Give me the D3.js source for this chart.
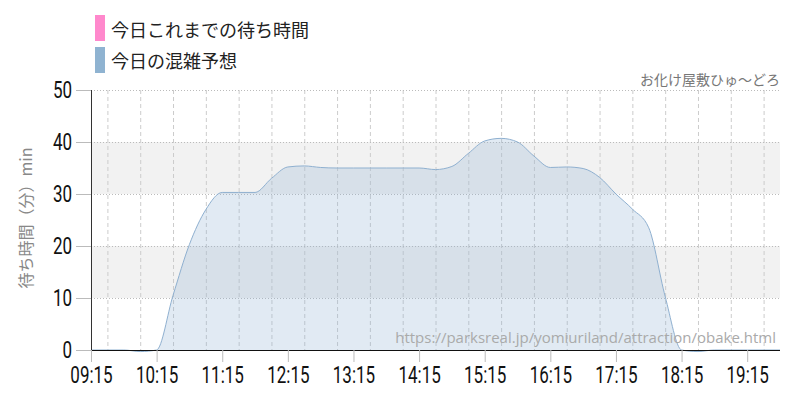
<!DOCTYPE html>
<html><head><meta charset="utf-8">
<script src="https://cdn.jsdelivr.net/npm/d3@7"></script>
<style>
body{margin:0;background:#fff;}
svg{display:block;}
.num{font-family:"Roboto",sans-serif;}
.jp{font-family:"Noto Sans CJK JP","Noto Sans",sans-serif;}
</style></head>
<body><svg id="c" width="800" height="400"></svg>
<script>
// ---- data ----
const times = ["09:15","09:30","09:45","10:00","10:15","10:30","10:45","11:00","11:15","11:30","11:45","12:00","12:15","12:30","12:45","13:00","13:15","13:30","13:45","14:00","14:15","14:30","14:45","15:00","15:15","15:30","15:45","16:00","16:15","16:30","16:45","17:00","17:15","17:30","17:45","18:00","18:15","18:30","18:45","19:00","19:15","19:30","19:45"];
const forecast = [0,0,0,-0.3,0,10.5,20.3,27,30.3,30.3,30.3,33,35.2,35.4,35.1,35,35,35,35,35,35,34.7,35.3,37.8,40.2,40.7,40,37.3,35.1,35.2,34.9,33.2,30,27.1,23.5,10.3,0,-0.3,0,0,0,0,0];
const actual = []; // 今日これまでの待ち時間 (no data yet)
const xTickLabels = ["09:15","10:15","11:15","12:15","13:15","14:15","15:15","16:15","17:15","18:15","19:15"];
const yTicks = [0,10,20,30,40,50];
const legendLabels = ["今日これまでの待ち時間","今日の混雑予想"];
const legendColors = ["#ff88cc","#8fb3d1"];
const title = "お化け屋敷ひゅ〜どろ";
const yLabel = "待ち時間（分）min";
const sourceUrl = "https://parksreal.jp/yomiuriland/attraction/obake.html";

// ---- layout ----
const svg = d3.select("#c");
const L = 91, R = 780, T = 90, B = 350;
const SX = 0.74; // horizontal condensing of numeric labels
const parse = d3.timeParse("%H:%M");
const x = d3.scaleTime().domain([parse("09:15"), parse("19:45")]).range([L, R]);
const y = d3.scaleLinear().domain([0, 50]).range([B, T]);

// alternating bands
const bands = [[10,20],[30,40]];
svg.append("g").selectAll("rect").data(bands).join("rect")
  .attr("x", L).attr("width", R - L)
  .attr("y", d => y(d[1])).attr("height", d => y(d[0]) - y(d[1]))
  .attr("fill", "#f2f2f2");

// vertical dashed grid every 30 min
const halfHours = d3.timeMinute.every(30).range(parse("09:15"), parse("19:46"));
svg.append("g").selectAll("line").data(halfHours).join("line")
  .attr("x1", d => x(d) + 0.5).attr("x2", d => x(d) + 0.5)
  .attr("y1", T).attr("y2", B)
  .attr("stroke", "#cccccc").attr("stroke-dasharray", "4,3");

// horizontal dotted grid
svg.append("g").selectAll("line").data(yTicks).join("line")
  .attr("x1", L).attr("x2", R)
  .attr("y1", d => y(d) + 0.5).attr("y2", d => y(d) + 0.5)
  .attr("stroke", "#bbbbbb").attr("stroke-dasharray", "1,2");

// area + line
const pts = times.map((t, i) => ({t: parse(t), v: forecast[i]}));
const area = d3.area().x(d => x(d.t)).y0(y(0)).y1(d => y(d.v)).curve(d3.curveMonotoneX);
const line = d3.line().x(d => x(d.t)).y(d => y(d.v)).curve(d3.curveMonotoneX);
svg.append("path").datum(pts).attr("d", area).attr("fill", "rgba(143,179,209,0.27)");
svg.append("path").datum(pts).attr("d", line).attr("fill", "none").attr("stroke", "#8fb0d0").attr("stroke-width", 1);

// actual series (empty)
if (actual.length) {
  svg.append("path").datum(actual).attr("d", line).attr("fill", "none").attr("stroke", legendColors[0]);
}

// source watermark
svg.append("text").attr("x", R - 4).attr("y", 343)
  .attr("text-anchor", "end").attr("font-size", 15).attr("fill", "#aaaaaa")
  .style("font-family", "'Open Sans','Noto Sans',sans-serif")
  .text(sourceUrl);

// y axis
const yAxis = svg.append("g").attr("transform", `translate(${L},0)`)
  .call(d3.axisLeft(y).tickValues(yTicks).tickSize(15).tickPadding(4));
yAxis.select(".domain").attr("stroke", "#333").attr("d", `M0.5,${T}V${B}`);
yAxis.selectAll(".tick line").attr("stroke", "#bbbbbb");
yAxis.selectAll(".tick text").attr("class", "num").attr("font-size", 23).attr("fill", "#111")
  .attr("x", -19 / SX).attr("transform", `scale(${SX},1)`);

// x axis
const xTicks = xTickLabels.map(parse);
const xAxis = svg.append("g").attr("transform", `translate(0,${B})`)
  .call(d3.axisBottom(x).tickValues(xTicks).tickFormat(d3.timeFormat("%H:%M")).tickSize(12).tickPadding(5));
xAxis.select(".domain").attr("stroke", "#111").attr("d", `M${L},0.5H${R}`);
xAxis.selectAll(".tick line").attr("stroke", "#bbbbbb");
xAxis.selectAll(".tick text").attr("class", "num").attr("font-size", 23).attr("fill", "#111")
  .attr("transform", `scale(${SX},1)`);

// y label
svg.append("text").attr("class", "jp")
  .attr("transform", "translate(25,218) rotate(-90)")
  .attr("text-anchor", "middle").attr("dominant-baseline", "central")
  .attr("font-size", 16).attr("fill", "#888").text(yLabel);

// title
svg.append("text").attr("class", "jp").attr("x", R).attr("y", 85)
  .attr("text-anchor", "end").attr("font-size", 14).attr("fill", "#777").text(title);

// legend
const lg = svg.append("g");
lg.selectAll("rect").data(legendColors).join("rect")
  .attr("x", 95).attr("y", (d, i) => 15 + i * 32).attr("width", 10).attr("height", 26)
  .attr("fill", d => d);
lg.selectAll("text").data(legendLabels).join("text").attr("class", "jp")
  .attr("x", 111).attr("y", (d, i) => 29 + i * 31).attr("dominant-baseline", "central")
  .attr("font-size", 18).attr("fill", "#222").text(d => d);
</script></body></html>
